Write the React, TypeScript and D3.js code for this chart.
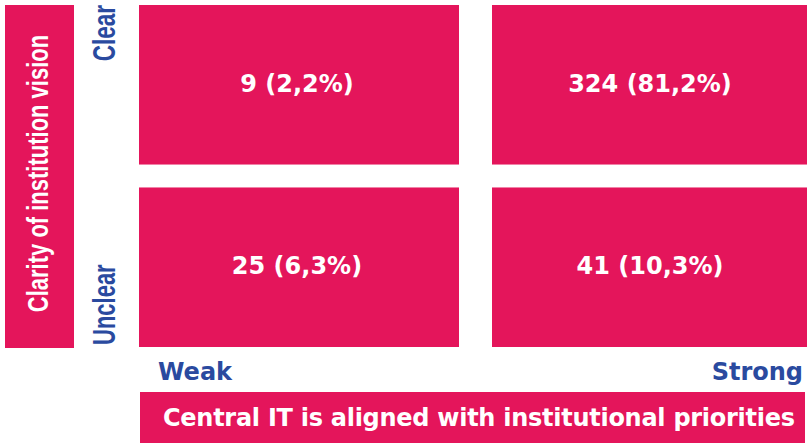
import * as d3 from "d3";
import React, { useRef, useEffect } from "react";

// matrix categories
const columns = ["Weak", "Strong"];
const rows = ["Clear", "Unclear"];
// cell values: count and share (%) per row, per column
const clearCounts = [9, 324];
const clearShares = [2.2, 81.2];
const unclearCounts = [25, 41];
const unclearShares = [6.3, 10.3];

const yTitle = "Clarity of institution vision";
const xTitle = "Central IT is aligned with institutional priorities";

const PINK = "#e4155b";
const BLUE = "#2a4a9f";

function App() {
  const ref = useRef(null);

  useEffect(() => {
    const svg = d3.select(ref.current);
    svg.selectAll("*").remove();
    draw(svg);
  }, []);

  const draw = (svg) => {
    const width = 807,
      height = 443;
    svg.attr("width", width).attr("height", height);

    const x = d3.scaleBand().domain(columns).range([139, 812]).paddingInner(33 / 353);
    const y = d3.scaleBand().domain(rows).range([5, 347]).paddingInner(0.1257);

    const cells = [];
    rows.forEach((r, i) => {
      const counts = i === 0 ? clearCounts : unclearCounts;
      const shares = i === 0 ? clearShares : unclearShares;
      columns.forEach((c, j) => {
        cells.push({ row: r, col: c, count: counts[j], share: shares[j] });
      });
    });

    const fmt = (v) => d3.format(".1f")(v).replace(".", ",");

    const g = svg.append("g");
    g.selectAll("rect.cell")
      .data(cells)
      .enter()
      .append("rect")
      .attr("class", "cell")
      .attr("x", (d) => x(d.col))
      .attr("y", (d) => y(d.row))
      .attr("width", x.bandwidth())
      .attr("height", y.bandwidth())
      .attr("fill", PINK);

    g.selectAll("text.cell")
      .data(cells)
      .enter()
      .append("text")
      .attr("x", (d) => x(d.col) + x.bandwidth() / 2 - 2)
      .attr("y", (d) => y(d.row) + y.bandwidth() / 2 + 7)
      .attr("text-anchor", "middle")
      .attr("fill", "#fff")
      .style("font", "bold 24px 'DejaVu Sans'")
      .text((d) => d.count + " (" + fmt(d.share) + "%)");

    // column labels
    svg.append("text")
      .attr("x", x("Weak") + 19)
      .attr("y", 380)
      .attr("fill", BLUE)
      .style("font", "bold 24px 'DejaVu Sans'")
      .text(columns[0]);
    svg.append("text")
      .attr("x", 803)
      .attr("y", 380)
      .attr("text-anchor", "end")
      .attr("fill", BLUE)
      .style("font", "bold 24px 'DejaVu Sans'")
      .text(columns[1]);

    // bottom title bar
    svg.append("rect")
      .attr("x", 140)
      .attr("y", 392)
      .attr("width", 665)
      .attr("height", 51)
      .attr("fill", PINK);
    svg.append("text")
      .attr("x", 163)
      .attr("y", 426)
      .attr("fill", "#fff")
      .attr("textLength", 632)
      .style("font", "bold 24px 'DejaVu Sans'")
      .text(xTitle);

    // left title bar
    svg.append("rect")
      .attr("x", 5)
      .attr("y", 5)
      .attr("width", 69)
      .attr("height", 343)
      .attr("fill", PINK);
    svg.append("text")
      .attr("transform", "translate(48,173.5) rotate(-90) scale(1,1.35)")
      .attr("text-anchor", "middle")
      .attr("fill", "#fff")
      .style("font", "bold 22px 'Liberation Sans'")
      .text(yTitle);

    // row labels (rotated)
    svg.append("text")
      .attr("transform", "translate(115," + y("Clear") + ") rotate(-90) scale(1,1.4)")
      .attr("text-anchor", "end")
      .attr("fill", BLUE)
      .style("font", "bold 22.5px 'Liberation Sans'")
      .text(rows[0]);
    svg.append("text")
      .attr("transform", "translate(115," + (y("Unclear") + y.bandwidth() - 2) + ") rotate(-90) scale(1,1.4)")
      .attr("text-anchor", "start")
      .attr("fill", BLUE)
      .style("font", "bold 22px 'Liberation Sans'")
      .text(rows[1]);
  };

  return (
    <svg ref={ref} style={{ position: "absolute", left: 0, top: 0, display: "block" }}></svg>
  );
}

export default App;
